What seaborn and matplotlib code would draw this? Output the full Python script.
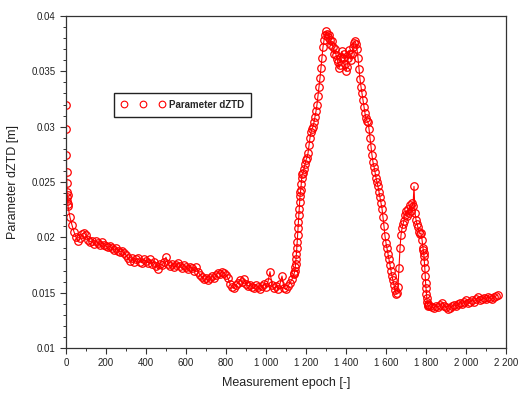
import pandas as pd
import matplotlib
matplotlib.use('Agg')
import matplotlib.pyplot as plt
import seaborn as sns
from matplotlib.lines import Line2D
from matplotlib.ticker import MultipleLocator, FuncFormatter

# -----------------------------
# Data (epoch -> dZTD in metres)
# -----------------------------
epochs_a = list(range(0, 10))
dztd_a = [0.0320, 0.0298, 0.0274, 0.0259, 0.0249, 0.0241, 0.0236, 0.0233, 0.0238, 0.0230]

epochs_b = list(range(10, 1141, 10))
dztd_b = [
    0.0228, 0.0218, 0.0211, 0.0205, 0.0200, 0.0197, 0.0199, 0.0203, 0.0204, 0.0202,
    0.0198, 0.0196, 0.0197, 0.0194, 0.0197, 0.0195, 0.0193, 0.0196, 0.0193, 0.0192,
    0.0191, 0.0192, 0.0190, 0.0189, 0.0190, 0.0188, 0.0187, 0.0188, 0.0186, 0.0184,
    0.0181, 0.0179, 0.0181, 0.0178, 0.0180, 0.0181, 0.0178, 0.0177, 0.0180, 0.0179,
    0.0177, 0.0180, 0.0176, 0.0178, 0.0174, 0.0171, 0.0176, 0.0175, 0.0178, 0.0182,
    0.0176, 0.0174, 0.0176, 0.0173, 0.0175, 0.0177, 0.0174, 0.0172, 0.0175, 0.0173,
    0.0171, 0.0173, 0.0172, 0.0170, 0.0173, 0.0169, 0.0166, 0.0164, 0.0162, 0.0163,
    0.0161, 0.0163, 0.0165, 0.0163, 0.0166, 0.0168, 0.0167, 0.0169, 0.0168, 0.0166,
    0.0163, 0.0158, 0.0155, 0.0154, 0.0157, 0.0159, 0.0161, 0.0160, 0.0162, 0.0158,
    0.0156, 0.0157, 0.0155, 0.0154, 0.0157, 0.0155, 0.0153, 0.0156, 0.0158, 0.0155,
    0.0160, 0.0169, 0.0157, 0.0154, 0.0156, 0.0153, 0.0158, 0.0165, 0.0154, 0.0153,
    0.0156, 0.0159, 0.0162, 0.0167,
]

epochs_c = list(range(1142, 1181, 2))
dztd_c = [
    0.0168, 0.0170, 0.0173, 0.0176, 0.0180, 0.0185, 0.0190, 0.0196, 0.0202, 0.0208,
    0.0214, 0.0220, 0.0226, 0.0232, 0.0237, 0.0241, 0.0243, 0.0248, 0.0254, 0.0257,
]

epochs_d = list(range(1185, 1786, 5))
dztd_d = [
    0.0258, 0.0262,
    0.0266, 0.0270, 0.0272, 0.0276, 0.0283, 0.0290, 0.0295, 0.0298, 0.0300, 0.0304,
    0.0309, 0.0314, 0.0320, 0.0328, 0.0336, 0.0344, 0.0353, 0.0362, 0.0372, 0.0378,
    0.0383, 0.0386, 0.0384, 0.0381, 0.0383, 0.0378, 0.0374, 0.0377, 0.0372, 0.0366,
    0.0370, 0.0365, 0.0361, 0.0358, 0.0353, 0.0356, 0.0363, 0.0368, 0.0362, 0.0366,
    0.0357, 0.0350, 0.0354, 0.0362, 0.0369, 0.0366, 0.0360, 0.0366, 0.0372, 0.0376,
    0.0377, 0.0375, 0.0370, 0.0362, 0.0352, 0.0343, 0.0336, 0.0330, 0.0324, 0.0318,
    0.0312, 0.0308, 0.0305, 0.0304, 0.0298, 0.0290, 0.0282, 0.0274, 0.0268, 0.0264,
    0.0259, 0.0254, 0.0250, 0.0246, 0.0241, 0.0236, 0.0231, 0.0226, 0.0218, 0.0210,
    0.0201, 0.0195, 0.0190, 0.0185, 0.0180, 0.0175, 0.0170, 0.0165, 0.0161, 0.0157,
    0.0152, 0.0149, 0.0150, 0.0155, 0.0172, 0.0190, 0.0202, 0.0208, 0.0212, 0.0215,
    0.0220, 0.0224, 0.0219, 0.0226, 0.0222, 0.0229, 0.0224, 0.0231, 0.0228, 0.0246,
    0.0222, 0.0216, 0.0212, 0.0209, 0.0205, 0.0203, 0.0204, 0.0198, 0.0190,
]

epochs_e = list(range(1786, 1813, 2))
dztd_e = [0.0189, 0.0186, 0.0183, 0.0178, 0.0172, 0.0165, 0.0159, 0.0154, 0.0149,
          0.0145, 0.0142, 0.0140, 0.0139, 0.0138]

epochs_f = list(range(1820, 2161, 10))
dztd_f = [
    0.0138, 0.0137, 0.0136, 0.0138, 0.0137, 0.0139, 0.0141, 0.0138, 0.0137, 0.0135,
    0.0136, 0.0138, 0.0139, 0.0138, 0.0140, 0.0141, 0.0140, 0.0142, 0.0143, 0.0141,
    0.0142, 0.0143, 0.0142, 0.0144, 0.0146, 0.0143, 0.0144, 0.0145, 0.0144, 0.0146,
    0.0145, 0.0144, 0.0146, 0.0147, 0.0148,
]

df = pd.DataFrame({
    'epoch': epochs_a + epochs_b + epochs_c + epochs_d + epochs_e + epochs_f,
    'dztd': dztd_a + dztd_b + dztd_c + dztd_d + dztd_e + dztd_f,
})

# -----------------------------
# Style
# -----------------------------
sns.set_style('ticks')
plt.rcParams['font.family'] = ['Liberation Sans', 'DejaVu Sans']

fig = plt.figure(figsize=(5.23, 3.97), dpi=100)
ax = fig.add_axes([66 / 523, 49 / 397, 440 / 523, 332 / 397])

sns.lineplot(data=df, x='epoch', y='dztd', ax=ax, color='red', lw=0.8,
             marker='o', markersize=5.4, markerfacecolor='none',
             markeredgecolor='red', markeredgewidth=0.9, legend=False)

ax.set_xlim(0, 2200)
ax.set_ylim(0.01, 0.04)
ax.xaxis.set_major_locator(MultipleLocator(200))
ax.xaxis.set_minor_locator(MultipleLocator(100))
ax.yaxis.set_major_locator(MultipleLocator(0.005))
ax.yaxis.set_minor_locator(MultipleLocator(0.001))
ax.xaxis.set_major_formatter(FuncFormatter(lambda v, p: f'{v:,.0f}'.replace(',', ' ')))
ax.yaxis.set_major_formatter(FuncFormatter(lambda v, p: f'{v:g}'))

ax.tick_params(which='major', direction='out', length=4, width=0.8,
               labelsize=7, colors='#333333', labelcolor='#222222')
ax.tick_params(which='minor', direction='out', length=2.5, width=0.7, colors='#333333')
ax.tick_params(axis='x', pad=3)
for s in ax.spines.values():
    s.set_visible(True)
    s.set_color('#333333')
    s.set_linewidth(0.9)

ax.set_xlabel('Measurement epoch [-]', fontsize=9, color='#222222', labelpad=7)
ax.set_ylabel('Parameter dZTD [m]', fontsize=9, color='#222222', labelpad=9)

handle = Line2D([], [], ls='none', marker='o', markersize=4.8, markerfacecolor='none',
                markeredgecolor='red', markeredgewidth=0.8)
leg = ax.legend([handle], ['Parameter dZTD'], loc='upper left',
                bbox_to_anchor=(0.109, 0.768), borderaxespad=0, numpoints=3,
                handlelength=4.5, handletextpad=0.5, borderpad=0.7,
                fancybox=False, framealpha=1, edgecolor='#222222',
                prop={'size': 7, 'weight': 'bold'})
leg.get_frame().set_linewidth(1.0)

fig.savefig('out.png', dpi=100)
